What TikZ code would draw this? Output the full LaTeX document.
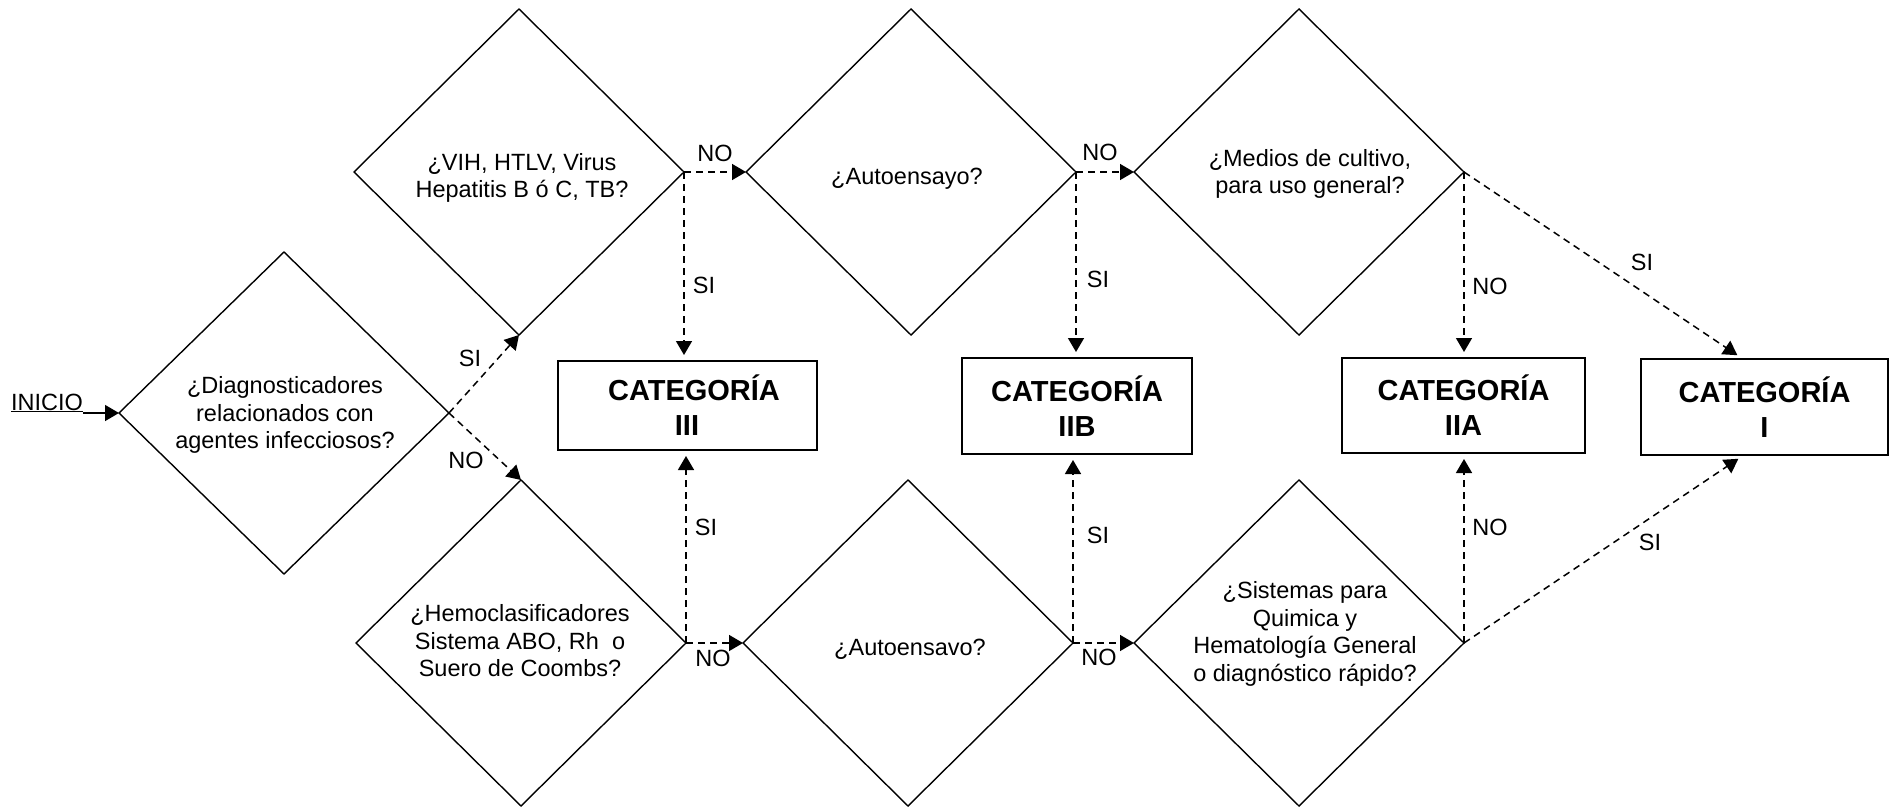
\documentclass[tikz,border=0pt]{standalone}
\usepackage{fontspec}
\setmainfont{Liberation Sans}
\usetikzlibrary{shapes.geometric,arrows.meta}
\tikzset{
  dia/.style={diamond, draw, line width=1.4pt, minimum width=330pt, minimum height=326pt, inner sep=0pt, outer sep=0pt},
  dtext/.style={align=center, font=\fontsize{23.5}{27.5}\selectfont, inner sep=0pt},
  catbox/.style={draw, line width=2pt, align=center, font=\fontsize{29}{35}\selectfont\bfseries, inner sep=0pt},
  lbl/.style={font=\fontsize{23.5}{27.5}\selectfont, inner sep=0pt},
  tip/.style={-{Triangle[length=14pt,width=16pt]}},
  flow/.style={tip, line width=1.5pt, dash pattern=on 7pt off 5pt},
  tobox/.style={flow, shorten >=5pt},
}
\begin{document}
\begin{tikzpicture}[x=1pt,y=-1pt]
\useasboundingbox (0,0) rectangle (1891,808);

% diamonds
\node[dia, minimum height=322pt] (d1) at (284,413) {};
\node[dia] (d2) at (519,172) {};
\node[dia] (d3) at (911,172) {};
\node[dia] (d4) at (1299,172) {};
\node[dia] (d5) at (521,643) {};
\node[dia] (d6) at (908,643) {};
\node[dia] (d7) at (1299,643) {};

% diamond texts
\node[dtext] (t1) at (285,415) {¿Diagnosticadores\\relacionados con\\agentes infecciosos?};
\node[dtext] (t2) at (522,178) {¿VIH, HTLV, Virus\\Hepatitis B ó C, TB?};
\node[dtext] (t3) at (907,179) {¿Autoensayo?};
\node[dtext] (t4) at (1310,174) {¿Medios de cultivo,\\para uso general?};
\node[dtext] (t5) at (520,641) {¿Hemoclasificadores\\Sistema ABO, Rh\ \ o\\Suero de Coombs?};
\node[dtext] (t6) at (910,649) {¿Autoensavo?};
\node[dtext] (t7) at (1305,634) {¿Sistemas para\\Quimica y\\Hematología General\\o diagnóstico rápido?};

% category boxes
\node[catbox, minimum width=259pt, minimum height=89pt] (b3) at (687,405.5) {\hspace*{14pt}CATEGORÍA\\III};
\node[catbox, minimum width=230pt, minimum height=96pt] (b2b) at (1077,406) {CATEGORÍA\\IIB};
\node[catbox, minimum width=243pt, minimum height=95pt] (b2a) at (1463.5,405.5) {CATEGORÍA\\IIA};
\node[catbox, minimum width=247pt, minimum height=96pt] (b1) at (1764.5,407) {CATEGORÍA\\I};
\coordinate (b1n) at ([xshift=-23pt]b1.north);
\coordinate (b1s) at ([xshift=-22pt]b1.south);

% start
\node[lbl, anchor=base west] (inicio) at (11,410) {\underline{INICIO}};
\draw[tip, line width=1.5pt] (inicio.east |- d1.west) -- (d1.west);

% connectors
\draw[flow] (d1.east) -- (d2.south);
\draw[flow] (d1.east) -- (d5.north);
\draw[flow] (d2.east) -- (d3.west);
\draw[tobox] (d2.east) -- (d2.east |- b3.north);
\draw[flow] (d5.east) -- (d6.west);
\draw[tobox] (d5.east) -- (d5.east |- b3.south);
\draw[flow] (d3.east) -- (d4.west);
\draw[tobox] (d3.east) -- (d3.east |- b2b.north);
\draw[flow] (d6.east) -- (d7.west);
\draw[tobox] (d6.east) -- (d6.east |- b2b.south);
\draw[tobox] (d4.east) -- (d4.east |- b2a.north);
\draw[tobox] (d4.east) -- (b1n);
\draw[tobox] (d7.east) -- (d7.east |- b2a.south);
\draw[tobox] (d7.east) -- (b1s);

% labels
\node[lbl] (l1) at (470,358) {SI};
\node[lbl] (l2) at (466,460) {NO};
\node[lbl] (l3) at (715,153) {NO};
\node[lbl] (l4) at (704,285) {SI};
\node[lbl] (l5) at (713,658) {NO};
\node[lbl] (l6) at (706,527) {SI};
\node[lbl] (l7) at (1100,152) {NO};
\node[lbl] (l8) at (1098,279) {SI};
\node[lbl] (l9) at (1099,657) {NO};
\node[lbl] (l10) at (1098,535) {SI};
\node[lbl] (l11) at (1490,286) {NO};
\node[lbl] (l12) at (1642,262) {SI};
\node[lbl] (l13) at (1490,527) {NO};
\node[lbl] (l14) at (1650,542) {SI};
\end{tikzpicture}
\end{document}
